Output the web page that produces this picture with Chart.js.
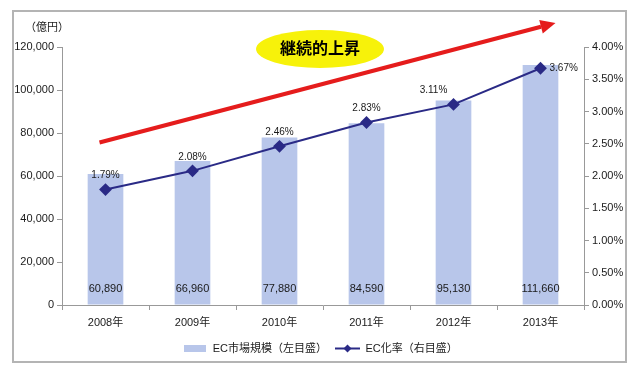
<!DOCTYPE html>
<html><head><meta charset="utf-8">
<script src="https://cdn.jsdelivr.net/npm/chart.js@4/dist/chart.umd.min.js"></script>
<style>html,body{margin:0;padding:0;background:#fff;}#wrap{width:640px;height:374px;position:relative}</style>
</head><body><div id="wrap"><canvas id="c" width="640" height="374"></canvas></div>
<script>
const categories = ['2008年','2009年','2010年','2011年','2012年','2013年'];
const marketSize = [60890, 66960, 77880, 84590, 95130, 111660];
const ecRate = [1.79, 2.08, 2.46, 2.83, 3.11, 3.67];
const leftTickStep = 20000;
const leftMax = 120000;
const rightTickStep = 0.5;
const rightMax = 4;
const seriesNames = ['EC市場規模（左目盛）', 'EC化率（右目盛）'];
const unitLabel = '（億円）';
const calloutText = '継続的上昇';

const FONT = "'Liberation Sans', Arial, 'Noto Sans CJK JP', sans-serif";
const BAR_COLOR = '#b8c6ea';
const LINE_COLOR = '#2a2a86';
const TEXT_COLOR = '#1a1a1a';

function makeBarIcon() {
  const c = document.createElement('canvas'); c.width = 22; c.height = 7;
  const g = c.getContext('2d'); g.fillStyle = BAR_COLOR; g.fillRect(0, 0, 22, 7); return c;
}
function makeLineIcon() {
  const c = document.createElement('canvas'); c.width = 25; c.height = 11;
  const g = c.getContext('2d');
  g.strokeStyle = LINE_COLOR; g.lineWidth = 2;
  g.beginPath(); g.moveTo(0, 5.5); g.lineTo(25, 5.5); g.stroke();
  g.fillStyle = LINE_COLOR; g.beginPath();
  g.moveTo(12.5, 1.5); g.lineTo(16.5, 5.5); g.lineTo(12.5, 9.5); g.lineTo(8.5, 5.5); g.closePath(); g.fill();
  return c;
}
const icons = [makeBarIcon(), makeLineIcon()];

const decorPlugin = {
  id: 'decor',
  beforeDraw(chart) {
    const ctx = chart.ctx;
    ctx.save();
    ctx.fillStyle = '#fff'; ctx.fillRect(0, 0, chart.width, chart.height);
    ctx.strokeStyle = '#b4b4b4'; ctx.lineWidth = 2;
    ctx.strokeRect(13, 11, 613, 351);
    ctx.restore();
  },
  afterDatasetsDraw(chart) {
    const ctx = chart.ctx;
    const xs = chart.scales.x, ys = chart.scales.y, yr = chart.scales.y1;
    const area = chart.chartArea;
    ctx.save();
    // unit label
    ctx.font = '11px ' + FONT; ctx.fillStyle = TEXT_COLOR;
    ctx.textAlign = 'center'; ctx.textBaseline = 'middle';
    ctx.fillText(unitLabel, area.left - 15, area.top - 19);
    // bar value labels
    ctx.font = '11px ' + FONT;
    marketSize.forEach((v, i) => {
      ctx.fillText(v.toLocaleString('en-US'), xs.getPixelForValue(i), ys.getPixelForValue(0) - 16);
    });
    // rate labels
    ctx.font = '10px ' + FONT;
    ecRate.forEach((v, i) => {
      const px = xs.getPixelForValue(i), py = yr.getPixelForValue(v);
      const t = v.toFixed(2) + '%';
      if (i === ecRate.length - 1) { ctx.textAlign = 'left'; ctx.fillText(t, px + 9, py); ctx.textAlign = 'center'; }
      else if (i === 4) { ctx.fillText(t, px - 20, py - 14); }
      else ctx.fillText(t, px, py - 14);
    });
    // red arrow
    const x0 = xs.getPixelForValue(0) - 6, y0 = yr.getPixelForValue(2.52);
    const x1 = xs.getPixelForValue(5) + 15, y1 = area.top - 24;
    const ang = Math.atan2(y1 - y0, x1 - x0);
    const hl = 15, hw = 7;
    const bx = x1 - hl * Math.cos(ang), by = y1 - hl * Math.sin(ang);
    ctx.strokeStyle = '#e51c1c'; ctx.fillStyle = '#e51c1c'; ctx.lineWidth = 4;
    ctx.beginPath(); ctx.moveTo(x0, y0); ctx.lineTo(bx, by); ctx.stroke();
    ctx.beginPath(); ctx.moveTo(x1, y1);
    ctx.lineTo(bx + hw * Math.sin(ang), by - hw * Math.cos(ang));
    ctx.lineTo(bx - hw * Math.sin(ang), by + hw * Math.cos(ang));
    ctx.closePath(); ctx.fill();
    // callout ellipse
    const cx = (xs.getPixelForValue(2) + xs.getPixelForValue(3)) / 2 - 3, cy = area.top + 2;
    ctx.fillStyle = '#f7f20a';
    ctx.beginPath(); ctx.ellipse(cx, cy, 64, 19, 0, 0, Math.PI * 2); ctx.fill();
    ctx.fillStyle = '#000'; ctx.font = 'bold 16px ' + FONT;
    ctx.fillText(calloutText, cx, cy + 1);
    ctx.restore();
  }
};

new Chart(document.getElementById('c'), {
  data: {
    labels: categories,
    datasets: [
      { type: 'line', label: seriesNames[1], data: ecRate, yAxisID: 'y1', order: 1,
        borderColor: LINE_COLOR, backgroundColor: LINE_COLOR, borderWidth: 2,
        pointStyle: 'rectRot', pointRadius: 5, pointHoverRadius: 5, tension: 0 },
      { type: 'bar', label: seriesNames[0], data: marketSize, yAxisID: 'y', order: 2,
        backgroundColor: BAR_COLOR, barPercentage: 0.41, categoryPercentage: 1 }
    ]
  },
  options: {
    responsive: false, animation: false, devicePixelRatio: 1,
    layout: { padding: { top: 47, left: 14, right: 14, bottom: 10 } },
    plugins: {
      tooltip: { enabled: false },
      legend: {
        position: 'bottom',
        labels: {
          usePointStyle: true, pointStyleWidth: 25, boxHeight: 11,
          font: { size: 11, family: FONT }, color: TEXT_COLOR, padding: 8,
          generateLabels(chart) {
            return [0, 1].map(k => {
              const di = k === 0 ? 1 : 0;
              return { text: seriesNames[k], pointStyle: icons[k], datasetIndex: di,
                fillStyle: 'transparent', strokeStyle: 'transparent', lineWidth: 0, fontColor: TEXT_COLOR };
            });
          }
        },
        reverse: false
      }
    },
    scales: {
      x: {
        offset: true,
        grid: { display: true, drawOnChartArea: false, offset: true, tickLength: 5, color: '#999' },
        border: { color: '#999' },
        ticks: { font: { size: 11, family: FONT }, color: TEXT_COLOR, padding: 6 },
        afterFit(s) { s.height = 30; }
      },
      y: {
        position: 'left', min: 0, max: leftMax,
        grid: { drawOnChartArea: false, tickLength: 5, color: '#999' },
        border: { color: '#999' },
        ticks: { stepSize: leftTickStep, font: { size: 11, family: FONT }, color: TEXT_COLOR, padding: 3,
          callback: v => v.toLocaleString('en-US') },
        afterFit(s) { s.width = 48; }
      },
      y1: {
        position: 'right', min: 0, max: rightMax,
        grid: { drawOnChartArea: false, tickLength: 5, color: '#999' },
        border: { color: '#999' },
        ticks: { stepSize: rightTickStep, font: { size: 11, family: FONT }, color: TEXT_COLOR, padding: 3,
          callback: v => v.toFixed(2) + '%' },
        afterFit(s) { s.width = 42; }
      }
    }
  },
  plugins: [decorPlugin]
});
</script>
</body></html>
